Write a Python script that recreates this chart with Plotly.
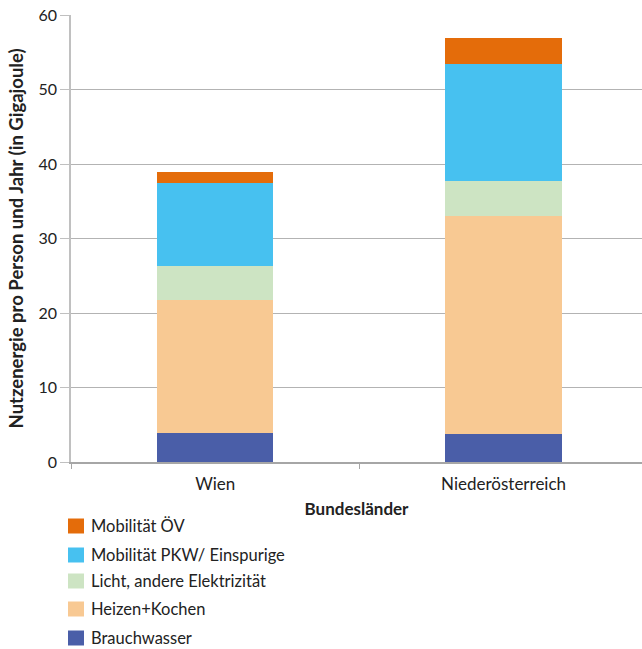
import plotly.graph_objects as go

categories = ["Wien", "Niederösterreich"]
series_names = ["Brauchwasser", "Heizen+Kochen", "Licht, andere Elektrizität",
                "Mobilität PKW/ Einspurige", "Mobilität ÖV"]
brauchwasser = [4.0, 3.85]
heizen_kochen = [17.8, 29.25]
licht = [4.6, 4.7]
pkw = [11.1, 15.7]
oev = [1.4, 3.4]
colors = ["#4A5EA8", "#F8C993", "#CDE4C3", "#47C1F0", "#E46C0A"]
y_ticks = [0, 10, 20, 30, 40, 50, 60]

FONT = "Lato, Open Sans, sans-serif"
W, H = 642, 649
ML, MR, MT, MB = 71, 0, 15, 187
PW, PH = W - ML - MR, H - MT - MB


def px_x(px):
    return (px - ML) / PW


def px_y(py):
    return (H - MB - py) / PH


fig = go.Figure()
all_vals = [brauchwasser, heizen_kochen, licht, pkw, oev]
for i, (name, vals) in enumerate(zip(series_names, all_vals)):
    fig.add_trace(go.Bar(
        x=categories, y=vals, name=name,
        marker=dict(color=colors[i], line=dict(color=colors[i], width=1)),
        showlegend=False,
    ))

# Legend (drawn in the bottom margin, top entry = last series)
row_centers = [526, 555, 581, 609, 638]
shapes = []
annotations = []
for row, idx in enumerate(reversed(range(len(series_names)))):
    cy = row_centers[row]
    shapes.append(dict(
        type="rect", xref="paper", yref="paper",
        x0=px_x(68), x1=px_x(84), y0=px_y(cy + 7.5), y1=px_y(cy - 7.5),
        fillcolor=colors[idx], line=dict(width=0),
    ))
    annotations.append(dict(
        xref="paper", yref="paper", x=px_x(89), y=px_y(cy),
        xanchor="left", yanchor="middle", showarrow=False,
        text=series_names[idx], font=dict(family=FONT, size=16.5, color="#222"),
    ))

fig.update_layout(
    barmode="stack",
    bargap=0.6,
    width=W, height=H,
    margin=dict(l=ML, r=MR, t=MT, b=MB),
    paper_bgcolor="white", plot_bgcolor="white",
    font=dict(family=FONT, size=16.5, color="#222"),
    showlegend=False,
    shapes=shapes,
    annotations=annotations,
    xaxis=dict(
        range=[-0.5, 1.48], type="category", automargin=False,
        showline=True, linecolor="#a6a6a6", linewidth=1.5,
        ticks="outside", tickson="boundaries", ticklen=5, tickcolor="#a6a6a6",
        ticklabelstandoff=6,
        tickfont=dict(family=FONT, size=17, color="#222"),
        title=dict(text="<b>Bundesländer</b>", font=dict(family=FONT, size=17, color="#222"), standoff=10),
    ),
    yaxis=dict(
        range=[0, 60], tickvals=y_ticks, automargin=False,
        showgrid=True, gridcolor="#b3b3b3", gridwidth=1.2,
        showline=True, linecolor="#c0c0c0", linewidth=1.5,
        ticks="outside", ticklen=9, tickcolor="#c0c0c0",
        tickfont=dict(family=FONT, size=16, color="#222"),
        zeroline=False,
        title=dict(text="<b>Nutzenergie pro Person und Jahr (in Gigajoule)</b>",
                   font=dict(family=FONT, size=18.5, color="#222"), standoff=10),
    ),
)

fig.write_html(
    "out.html",
    config={"displayModeBar": False},
    post_script="document.body.style.margin='0';document.body.style.padding='0';",
)
